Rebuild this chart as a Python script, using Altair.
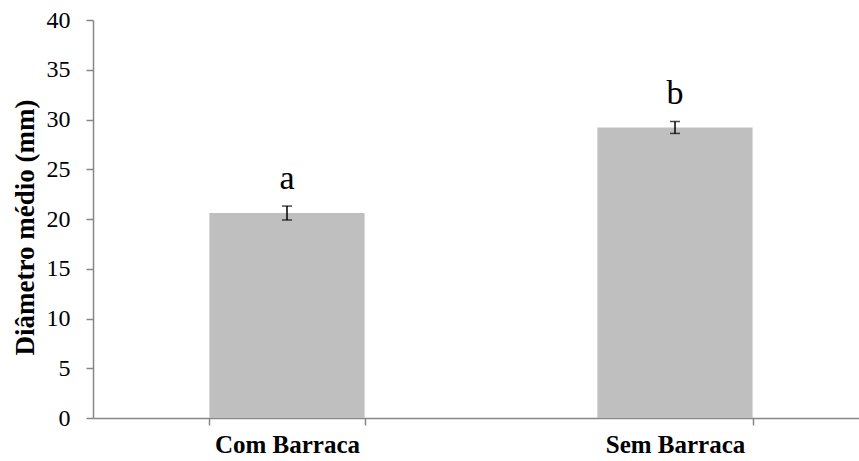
import altair as alt
import pandas as pd

categories = ["Com Barraca", "Sem Barraca"]
means = [20.6, 29.2]
errors = [0.7, 0.6]
letters = ["a", "b"]

df = pd.DataFrame({
    "cat": categories,
    "mean": means,
    "lo": [m - e for m, e in zip(means, errors)],
    "hi": [m + e for m, e in zip(means, errors)],
    "letter": letters,
})

FONT = "Liberation Serif"
AXIS_COLOR = "#878787"

x = alt.X(
    "cat:N",
    sort=categories,
    scale=alt.Scale(range=[0, 776], paddingInner=0.6, paddingOuter=0.3),
    axis=alt.Axis(
        title=None,
        labelAngle=0,
        labelFont=FONT,
        labelFontSize=25,
        labelFontWeight="bold",
        labelColor="black",
        labelPadding=7,
        domainColor=AXIS_COLOR,
        domainWidth=1.5,
        tickColor=AXIS_COLOR,
        tickWidth=1.5,
        tickSize=7,
        tickBand="extent",
    ),
)

y_scale = alt.Scale(domain=[0, 40], nice=False)
y_axis = alt.Axis(
    title="Diâmetro médio (mm)",
    values=[0, 5, 10, 15, 20, 25, 30, 35, 40],
    grid=False,
    labelFont=FONT,
    labelFontSize=24,
    labelColor="black",
    labelPadding=16,
    domainColor=AXIS_COLOR,
    domainWidth=1.5,
    tickColor=AXIS_COLOR,
    tickWidth=1.5,
    tickSize=7,
    titleFont=FONT,
    titleFontSize=27,
    titleFontWeight="bold",
    titleColor="black",
    titleX=-68,
    titleY=207,
    titleAngle=-90,
    titleBaseline="middle",
    titleAlign="center",
)

base = alt.Chart(df)

bars = base.mark_bar(color="#BFBFBF").encode(
    x=x,
    y=alt.Y("mean:Q", scale=y_scale, axis=y_axis),
)

rule = base.mark_rule(color="black", strokeWidth=1.5).encode(
    x=alt.X("cat:N", sort=categories),
    y=alt.Y("lo:Q"),
    y2="hi:Q",
)

tick_lo = base.mark_tick(color="black", size=10, thickness=1.5, orient="horizontal").encode(
    x=alt.X("cat:N", sort=categories),
    y=alt.Y("lo:Q"),
)
tick_hi = base.mark_tick(color="black", size=10, thickness=1.5, orient="horizontal").encode(
    x=alt.X("cat:N", sort=categories),
    y=alt.Y("hi:Q"),
)

text = base.mark_text(
    font=FONT, fontSize=34, color="black", baseline="alphabetic", dy=-17
).encode(
    x=alt.X("cat:N", sort=categories),
    y=alt.Y("hi:Q"),
    text="letter:N",
)

chart = alt.layer(bars, rule, tick_lo, tick_hi, text).properties(
    width=766,
    height=398,
    autosize=alt.AutoSizeParams(type="none"),
    padding={"left": 93, "top": 20, "right": 0, "bottom": 43},
).configure(
    font=FONT,
    background="white",
    view=alt.ViewConfig(stroke=None),
)

chart.save("out.html", embed_options={"renderer": "svg", "actions": False})
